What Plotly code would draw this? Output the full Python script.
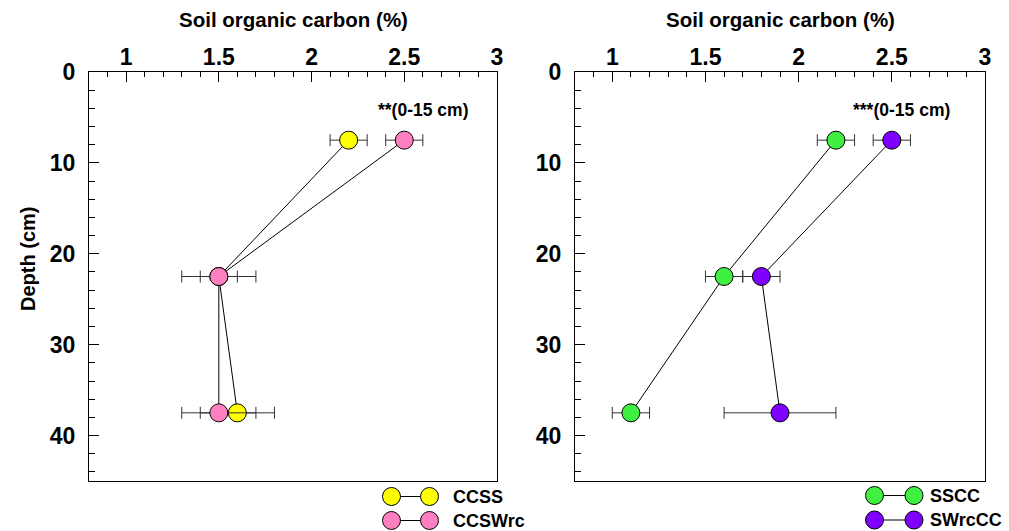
import plotly.graph_objects as go

# Depth mid-points (cm) of the three sampled layers
depth = [7.5, 22.5, 37.5]

# Soil organic carbon (%) and standard errors, left panel
ccss_soc = [2.2, 1.5, 1.6]
ccss_err = [0.1, 0.1, 0.2]
ccswrc_soc = [2.5, 1.5, 1.5]
ccswrc_err = [0.1, 0.2, 0.2]

# Soil organic carbon (%) and standard errors, right panel
sscc_soc = [2.2, 1.6, 1.1]
sscc_err = [0.1, 0.1, 0.1]
swrccc_soc = [2.5, 1.8, 1.9]
swrccc_err = [0.1, 0.1, 0.3]

x_ticks = [1, 1.5, 2, 2.5, 3]
y_ticks = [0, 10, 20, 30, 40]

YELLOW = "#FFFF00"
PINK = "#FF80C0"
GREEN = "#40F040"
PURPLE = "#8000FF"

FONT = "Liberation Sans, Arial, sans-serif"

fig = go.Figure()


def add_series(x, err, color, xa, ya):
    fig.add_trace(go.Scatter(
        x=x, y=depth, mode="lines+markers",
        xaxis=xa, yaxis=ya, showlegend=False,
        line=dict(color="black", width=1),
        marker=dict(size=18, color=color, line=dict(color="black", width=1)),
        error_x=dict(type="data", array=err, color="#333333", thickness=1, width=6),
    ))


add_series(ccss_soc, ccss_err, YELLOW, "x", "y")
add_series(ccswrc_soc, ccswrc_err, PINK, "x", "y")
add_series(sscc_soc, sscc_err, GREEN, "x2", "y2")
add_series(swrccc_soc, swrccc_err, PURPLE, "x2", "y2")

W, H = 1009, 531
y_dom = [1 - 481 / H, 1 - 72 / H]

xaxis_common = dict(
    range=[0.8, 3], side="top", tickvals=x_ticks, ticktext=[str(v) for v in x_ticks],
    ticks="inside", ticklen=10, tickwidth=1, tickcolor="black",
    minor=dict(dtick=0.1, ticks="inside", ticklen=5, tickcolor="black"),
    showline=True, linecolor="black", linewidth=1, mirror=True,
    showgrid=False, zeroline=False, automargin=False, ticklabelstandoff=-3,
    tickfont=dict(family=FONT, size=23, color="black", weight="bold"),
    title=dict(text=""),
)
yaxis_common = dict(
    range=[45, 0], tickvals=y_ticks, domain=y_dom,
    ticks="inside", ticklen=10, tickwidth=1, tickcolor="black",
    minor=dict(dtick=2, ticks="inside", ticklen=6, tickcolor="black"),
    showline=True, linecolor="black", linewidth=1, mirror=True,
    showgrid=False, zeroline=False, automargin=False, ticklabelstandoff=8,
    tickfont=dict(family=FONT, size=23, color="black", weight="bold"),
)

fig.update_layout(
    width=W, height=H,
    margin=dict(l=0, r=0, t=0, b=0, autoexpand=False),
    paper_bgcolor="white", plot_bgcolor="white",
    showlegend=False,
    xaxis=dict(domain=[89 / W, 497 / W], anchor="y", **xaxis_common),
    xaxis2=dict(domain=[575 / W, 985 / W], anchor="y2", **xaxis_common),
    yaxis=dict(anchor="x", **yaxis_common),
    yaxis2=dict(anchor="x2", **yaxis_common),
)

# Axis titles
for xc in ((89 + 497) / 2, (575 + 985) / 2):
    fig.add_annotation(x=xc / W, y=1 - 20 / H, xref="paper", yref="paper",
                       text="<b>Soil organic carbon (%)</b>", showarrow=False,
                       xanchor="center", yanchor="middle",
                       font=dict(family=FONT, size=20.5, color="black"))
fig.add_annotation(x=28 / W, y=1 - 259 / H, xref="paper", yref="paper",
                   text="<b>Depth (cm)</b>", showarrow=False, textangle=-90,
                   xanchor="center", yanchor="middle",
                   font=dict(family=FONT, size=20, color="black"))

# Significance labels for the 0-15 cm layer
fig.add_annotation(x=2.6, y=4.2, xref="x", yref="y", text="<b>**(0-15 cm)</b>",
                   showarrow=False, font=dict(family=FONT, size=17.5, color="black"))
fig.add_annotation(x=2.55, y=4.2, xref="x2", yref="y2", text="<b>***(0-15 cm)</b>",
                   showarrow=False, font=dict(family=FONT, size=17.5, color="black"))

# Legend keys: two markers joined by a line, followed by the label
legend_rows = [
    (391.5, 429.5, 451, 496.5, YELLOW, "<b>CCSS</b>"),
    (391.5, 429.5, 451, 520.5, PINK, "<b>CCSWrc</b>"),
    (874.5, 914, 928, 495.5, GREEN, "<b>SSCC</b>"),
    (874.5, 914, 928, 520, PURPLE, "<b>SWrcCC</b>"),
]
r = 9
for xa, xb, xt, yy, col, label in legend_rows:
    yp = 1 - yy / H
    fig.add_shape(type="line", xref="paper", yref="paper",
                  x0=xa / W, x1=xb / W, y0=yp, y1=yp,
                  line=dict(color="black", width=1))
    for xc in (xa, xb):
        fig.add_shape(type="circle", xref="paper", yref="paper",
                      x0=(xc - r) / W, x1=(xc + r) / W,
                      y0=(H - yy - r) / H, y1=(H - yy + r) / H,
                      fillcolor=col, line=dict(color="black", width=1))
    fig.add_annotation(x=xt / W, y=yp, xref="paper", yref="paper",
                       xanchor="left", yanchor="middle", text=label, showarrow=False,
                       font=dict(family=FONT, size=18, color="black"))

fig.write_html("out.html")
